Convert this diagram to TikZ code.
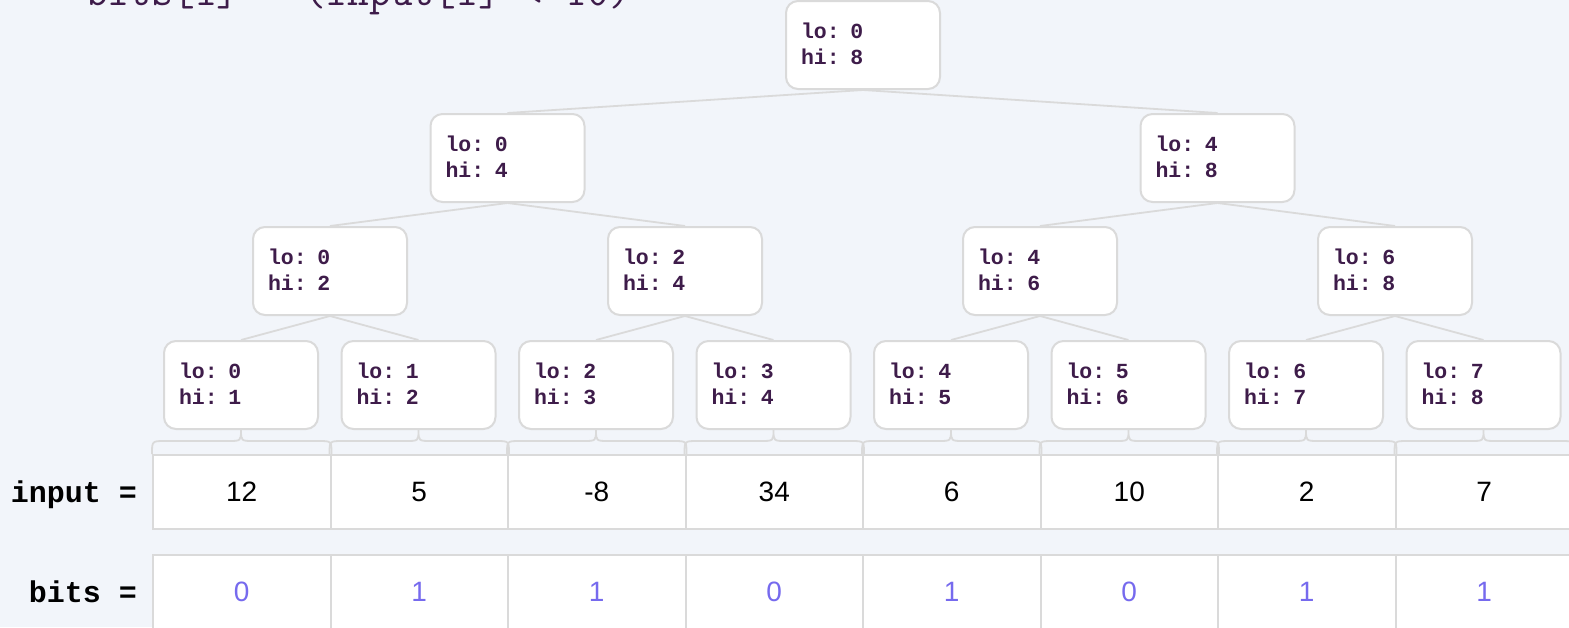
\documentclass[tikz,border=0pt]{standalone}
\usepackage{fontspec}
\usetikzlibrary{calc}
\newfontfamily\monof{Liberation Mono}
\newfontfamily\sansf{Liberation Sans}
\definecolor{bgc}{RGB}{242,245,250}
\definecolor{edgec}{RGB}{218,218,218}
\definecolor{txtc}{RGB}{62,28,74}
\definecolor{bitc}{RGB}{118,106,238}
\newcommand\mydeep{\rule[-3pt]{0pt}{3pt}}
\begin{document}
\begin{tikzpicture}[x=1pt,y=-1pt,
  treenode/.style={draw=edgec, line width=2pt, fill=white, rounded corners=12pt,
    minimum width=154pt, minimum height=88pt, inner xsep=15pt, inner ysep=0pt,
    align=left, text width=124pt, text=txtc,
    font=\monof\bfseries\fontsize{21.5}{26}\selectfont},
  edge/.style={draw=edgec, line width=1.8pt},
  cell/.style={draw=edgec, line width=2pt, fill=white, minimum width=177.5pt,
    minimum height=74pt, inner sep=0pt, font=\sansf\fontsize{28}{28}\selectfont},
  lbl/.style={anchor=base east, inner sep=0pt, text=black,
    font=\monof\bfseries\fontsize{30}{30}\selectfont}]
\useasboundingbox (0,0) rectangle (1569,627);
\clip (0,0) rectangle (1569,627);
\fill[bgc] (0,0) rectangle (1569,627);

\node[anchor=base west, inner sep=0pt, text=txtc, font=\ttfamily\fontsize{42.3}{42.3}\selectfont]
  (title) at (86,5) {bits[i] = (input[i] < 10)};

% tree
\node[treenode] (r) at (863,45) {lo: 0\\hi: 8\mydeep};
\foreach \k in {1,2}{
  \pgfmathtruncatemacro\lo{4*(\k-1)}\pgfmathtruncatemacro\hi{4*\k}
  \node[treenode] (h\k) at ({507.5+(\k-1)*710},158) {lo: \lo\\hi: \hi\mydeep};}
\foreach \j in {1,...,4}{
  \pgfmathtruncatemacro\lo{2*(\j-1)}\pgfmathtruncatemacro\hi{2*\j}
  \node[treenode] (m\j) at ({330+(\j-1)*355},271) {lo: \lo\\hi: \hi\mydeep};}
\foreach \i in {1,...,8}{
  \pgfmathtruncatemacro\lo{\i-1}
  \node[treenode] (l\i) at ({241+(\i-1)*177.5},385) {lo: \lo\\hi: \i\mydeep};}

\draw[edge] (r.south) -- (h1.north);
\draw[edge] (r.south) -- (h2.north);
\foreach \k in {1,2}{
  \pgfmathtruncatemacro\a{2*\k-1}\pgfmathtruncatemacro\b{2*\k}
  \draw[edge] (h\k.south) -- (m\a.north);
  \draw[edge] (h\k.south) -- (m\b.north);}
\foreach \j in {1,...,4}{
  \pgfmathtruncatemacro\a{2*\j-1}\pgfmathtruncatemacro\b{2*\j}
  \draw[edge] (m\j.south) -- (l\a.north);
  \draw[edge] (m\j.south) -- (l\b.north);}

% arrays
\foreach \v [count=\i] in {12,5,-8,34,6,10,2,7}
  \node[cell] (in\i) at ({241.75+(\i-1)*177.5},492) {\v};
\foreach \v [count=\i] in {0,1,1,0,1,0,1,1}
  \node[cell, text=bitc] (bt\i) at ({241.75+(\i-1)*177.5},592) {\v};

\node[lbl] (inlbl) at (137,502) {input =};
\node[lbl] (btlbl) at (137,602) {bits =};

% braces
\foreach \i in {1,...,8}{
  \draw[edge] let \p1=(in\i.north west), \p2=(in\i.north east), \p3=(l\i.south) in
    (\p1) .. controls (\x1,\y1+13pt) .. (\x1+13pt,\y1+13pt)
    -- (\x3-13pt,\y1+13pt) .. controls (\x3,\y1+13pt) .. (\p3)
    .. controls (\x3,\y1+13pt) .. (\x3+13pt,\y1+13pt)
    -- (\x2-13pt,\y1+13pt) .. controls (\x2,\y1+13pt) .. (\p2);}
\end{tikzpicture}
\end{document}
